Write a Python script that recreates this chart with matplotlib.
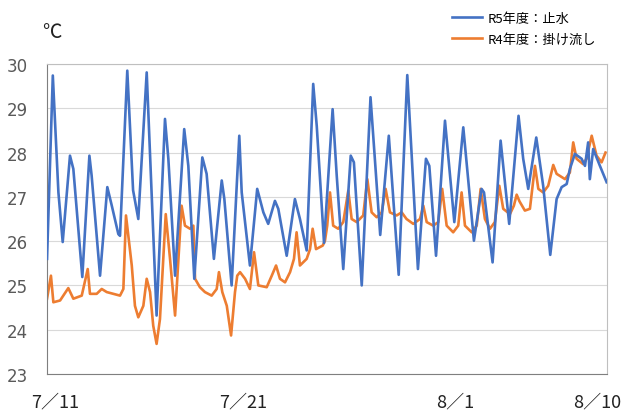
import matplotlib
matplotlib.use("Agg")
import matplotlib.pyplot as plt

plt.rcParams['font.family'] = ['Noto Sans CJK JP', 'DejaVu Sans']

# days since 7/11 00:00 and water temperature (°C)
r5_days = [0.0, 0.31, 0.61, 0.84, 1.23, 1.41, 1.89, 2.27, 2.39, 2.84, 3.23, 3.47, 3.82, 3.91,
           4.30, 4.61, 4.89, 5.34, 5.87, 6.32, 6.50, 6.86, 7.35, 7.57, 7.89, 8.32, 8.55, 8.94,
           9.36, 9.50, 9.89, 10.30, 10.43, 10.87, 11.26, 11.59, 11.85, 12.21, 12.39, 12.84,
           13.28, 13.55, 13.91, 14.26, 14.45, 14.84, 15.30, 15.52, 15.87, 16.27, 16.44, 16.86,
           17.33, 17.85, 18.31, 18.84, 19.30, 19.87, 20.30, 20.48, 20.84, 21.32, 21.82, 22.30,
           22.87, 23.28, 23.41, 23.87, 24.30, 24.76, 25.26, 25.51, 25.78, 26.21, 26.58, 26.96,
           27.30, 27.57, 27.84, 28.01, 28.28, 28.64, 28.82, 28.99, 29.08, 29.26, 29.62, 29.98]
r5_temp = [25.6, 29.74, 27.1, 25.98, 27.93, 27.63, 25.19, 27.93, 27.48, 25.22, 27.22, 26.8, 26.16, 26.12,
           29.85, 27.15, 26.5, 29.81, 24.32, 28.76, 27.86, 25.22, 28.53, 27.7, 25.15, 27.89, 27.52, 25.6,
           27.37, 26.95, 25.0, 28.38, 27.1, 25.45, 27.18, 26.65, 26.39, 26.91, 26.73, 25.67,
           26.95, 26.5, 25.79, 29.55, 28.6, 25.96, 28.98, 27.48, 25.37, 27.93, 27.78, 25.0,
           29.25, 26.14, 28.38, 25.24, 29.75, 25.37, 27.86, 27.7, 25.67, 28.72, 26.43, 28.57,
           26.01, 27.18, 27.1, 25.52, 28.27, 26.39, 28.83, 27.86, 27.18, 28.34, 27.25, 25.69,
           26.95, 27.22, 27.29, 27.63, 27.97, 27.86, 27.7, 28.23, 27.4, 28.08, 27.7, 27.33]

r4_days = [0.0, 0.21, 0.34, 0.70, 1.14, 1.41, 1.86, 2.18, 2.30, 2.66, 2.93, 3.20, 3.91, 4.09,
           4.23, 4.54, 4.71, 4.89, 5.16, 5.34, 5.52, 5.69, 5.87, 6.05, 6.36, 6.59, 6.86, 7.21,
           7.39, 7.66, 7.84, 7.93, 8.19, 8.46, 8.82, 9.09, 9.21, 9.39, 9.63, 9.86, 10.07, 10.19,
           10.34, 10.61, 10.87, 11.09, 11.32, 11.77, 12.04, 12.27, 12.48, 12.75, 13.02, 13.23,
           13.37, 13.55, 13.91, 14.09, 14.23, 14.41, 14.77, 14.89, 15.01, 15.16, 15.33, 15.60,
           15.87, 16.14, 16.32, 16.59, 16.94, 17.16, 17.39, 17.66, 17.93, 18.14, 18.37, 18.73,
           19.00, 19.26, 19.62, 19.98, 20.16, 20.34, 20.69, 20.96, 21.17, 21.41, 21.76, 22.03,
           22.21, 22.39, 22.75, 23.02, 23.23, 23.46, 23.73, 23.99, 24.23, 24.44, 24.80, 25.01,
           25.16, 25.31, 25.60, 25.87, 26.14, 26.32, 26.58, 26.85, 27.12, 27.30, 27.75, 28.01,
           28.19, 28.37, 28.72, 28.90, 29.18, 29.44, 29.71, 29.92]
r4_temp = [24.7, 25.22, 24.62, 24.66, 24.94, 24.7, 24.77, 25.37, 24.81, 24.81, 24.92, 24.85, 24.77, 24.92,
           26.58, 25.45, 24.54, 24.28, 24.54, 25.15, 24.85, 24.09, 23.68, 24.24, 26.61, 25.6, 24.32, 26.8,
           26.35, 26.28, 26.35, 25.15, 24.96, 24.85, 24.77, 24.92, 25.3, 24.85, 24.54, 23.87, 24.85, 25.22,
           25.3, 25.15, 24.92, 25.75, 25.0, 24.96, 25.22, 25.45, 25.15, 25.07, 25.3, 25.6,
           26.2, 25.45, 25.6, 25.82, 26.28, 25.82, 25.9, 26.01, 26.35, 27.1, 26.35, 26.28,
           26.43, 27.14, 26.5, 26.43, 26.58, 27.4, 26.65, 26.54, 26.65, 27.18, 26.65, 26.58,
           26.65, 26.5, 26.39, 26.5, 26.8, 26.43, 26.35, 26.43, 27.18, 26.35, 26.2, 26.35,
           27.1, 26.35, 26.2, 26.35, 27.18, 26.5, 26.28, 26.43, 27.25, 26.73, 26.61, 26.8,
           27.05, 26.9, 26.69, 26.73, 27.7, 27.18, 27.1, 27.25, 27.72, 27.52, 27.4, 27.55,
           28.23, 27.86, 27.74, 27.86, 28.38, 27.93, 27.78, 28.0]

tick_labels = ['7／11', '7／21', '8／1', '8／10']
tick_pos = [0.43, 10.5, 21.85, 29.46]

fig = plt.figure(figsize=(6.22, 4.14), dpi=100)
ax = fig.add_axes([0.0756, 0.0942, 0.9003, 0.7488])

ax.plot(r5_days, r5_temp, color='#4472C4', lw=1.9, label='R5年度：止水', zorder=3,
        solid_joinstyle='round')
ax.plot(r4_days, r4_temp, color='#ED7D31', lw=1.9, label='R4年度：掛け流し', zorder=2,
        solid_joinstyle='round')

ax.set_xlim(0, 30)
ax.set_ylim(23, 30)
ax.set_yticks(range(23, 31))
ax.grid(True, axis='y', color='#d9d9d9', lw=0.8)
ax.set_axisbelow(True)

ax.set_xticks(tick_pos)
ax.set_xticklabels(tick_labels, fontsize=13, color='#222222')
ax.tick_params(axis='x', length=0, pad=13)
ax.tick_params(axis='y', length=0, pad=14, labelsize=12, labelcolor='#595959')
for lab in ax.get_yticklabels():
    lab.set_family(['Liberation Sans Narrow', 'DejaVu Sans'])

for side in ['left', 'bottom']:
    ax.spines[side].set_color('#7f7f7f')
for side in ['top', 'right']:
    ax.spines[side].set_color('#bfbfbf')

fig.text(42 / 622, 1 - 32 / 414, '℃', fontsize=14, color='#222222', va='center', ha='left')

fig.legend(loc='upper left', bbox_to_anchor=(440 / 622, 1 - 1 / 414), frameon=False,
           fontsize=9.5, handlelength=2.3, handletextpad=0.4, labelspacing=0.6)

fig.savefig('out.png', dpi=100)
